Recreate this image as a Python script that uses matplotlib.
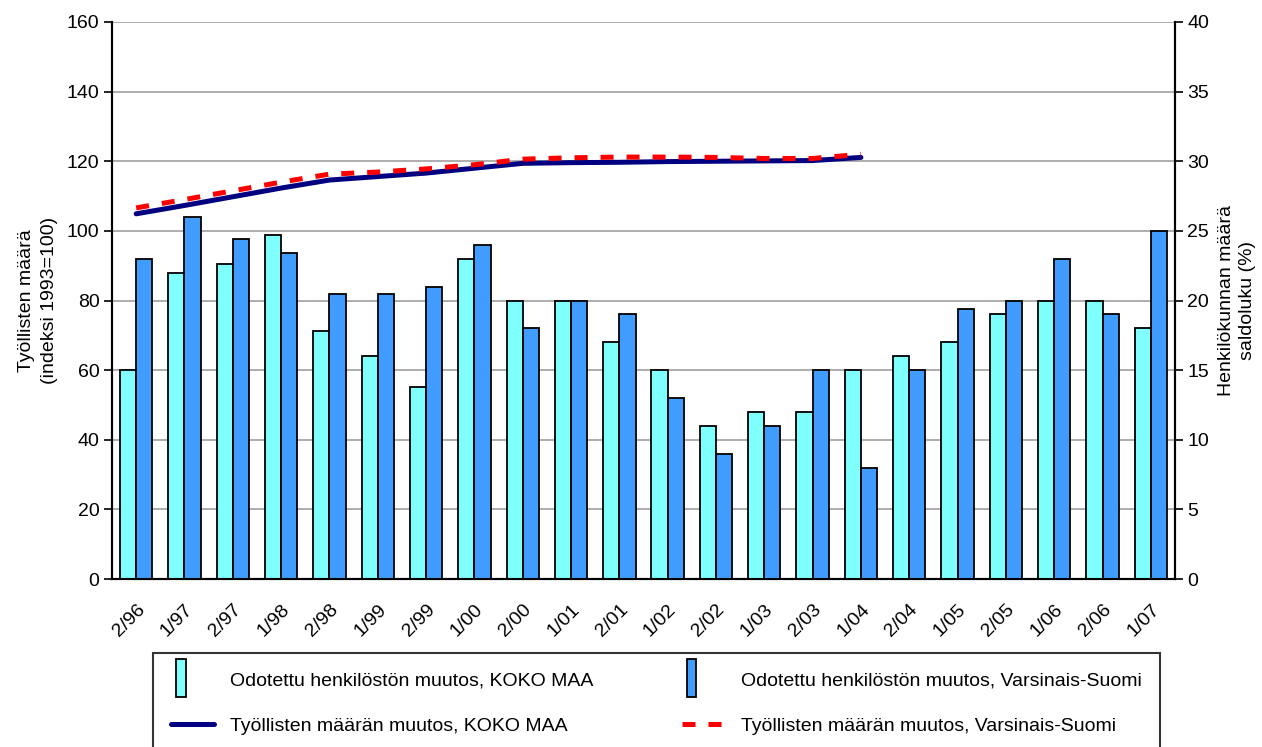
import numpy as np
import matplotlib as mpl
import matplotlib.pyplot as plt
import matplotlib.patches as mpatches
import matplotlib.lines as mlines
from matplotlib.legend_handler import HandlerPatch

mpl.use('Agg')
plt.rcParams['font.family'] = ['Liberation Sans', 'DejaVu Sans']

periods = ['2/96', '1/97', '2/97', '1/98', '2/98', '1/99', '2/99', '1/00', '2/00', '1/01', '2/01',
           '1/02', '2/02', '1/03', '2/03', '1/04', '2/04', '1/05', '2/05', '1/06', '2/06', '1/07']

# odotettu henkilöstön muutos, saldoluku (%)
staff_koko = [15, 22, 22.6, 24.7, 17.8, 16, 13.8, 23, 20, 20, 17,
              15, 11, 12, 12, 15, 16, 17, 19, 20, 20, 18]
staff_vs = [23, 26, 24.4, 23.4, 20.5, 20.5, 21, 24, 18, 20, 19,
            13, 9, 11, 15, 8, 15, 19.4, 20, 23, 19, 25]

# työllisten määrä, indeksi 1993=100 (2/96 - 1/04)
emp_koko = [104.9, 107.3, 109.8, 112.3, 114.6, 115.6, 116.6, 118.0, 119.4, 119.6, 119.7,
            119.9, 120.0, 120.1, 120.2, 121.1]
emp_vs = [106.6, 109.0, 111.5, 114.0, 116.3, 116.9, 117.8, 119.0, 120.6, 121.0, 121.2,
          121.2, 121.1, 120.8, 120.8, 122.0]

labels = ['Odotettu henkilöstön muutos, KOKO MAA',
          'Odotettu henkilöstön muutos, Varsinais-Suomi',
          'Työllisten määrän muutos, KOKO MAA',
          'Työllisten määrän muutos, Varsinais-Suomi']

cyan = '#80FFFF'
blue = '#409CFF'
navy = '#000080'
red = '#FF0000'
FS = 14

fig = plt.figure(figsize=(12.62, 7.47), dpi=100)
ax = fig.add_axes([112 / 1262, 1 - 579 / 747, (1175 - 112) / 1262, (579 - 22) / 747])
ax2 = ax.twinx()

x = np.arange(len(periods))
w = 0.335
ax2.bar(x - w / 2, staff_koko, w, color=cyan, edgecolor='black', linewidth=1.3, zorder=2)
ax2.bar(x + w / 2, staff_vs, w, color=blue, edgecolor='black', linewidth=1.3, zorder=2)
ax2.set_ylim(0, 40)
ax2.set_yticks(range(0, 41, 5))

xl = x[:len(emp_koko)]
dash = (0, (2.6, 2.6))
ax2.plot(xl, np.array(emp_koko) / 4, color=navy, lw=3.6, solid_capstyle='round', zorder=3)
ax2.plot(xl, np.array(emp_vs) / 4, color=red, lw=3.6, linestyle=dash, zorder=4)

ax.set_ylim(0, 160)
ax.set_yticks(range(0, 161, 20))
ax.set_xlim(-0.5, len(periods) - 0.5)
ax.yaxis.grid(True, color='#a0a0a0', lw=1.2)
ax.set_axisbelow(True)
ax.set_xticks(x)
ax.set_xticklabels(periods, rotation=45, ha='right', rotation_mode='anchor')
ax.tick_params(axis='x', length=0, pad=16, labelsize=FS)
ax.tick_params(axis='y', labelsize=FS, length=6, width=1.2, pad=3)
ax2.tick_params(axis='y', labelsize=FS, length=6, width=1.2, pad=3)

for a in (ax, ax2):
    a.spines['top'].set_visible(False)
    for s in ('left', 'right', 'bottom'):
        a.spines[s].set_linewidth(1.5)

ax.set_ylabel('Työllisten määrä\n(indeksi 1993=100)', fontsize=FS, labelpad=6, linespacing=1.5)
ax2.set_ylabel('Henkilökunnan määrä\nsaldoluku (%)', fontsize=FS, rotation=90, labelpad=6,
               linespacing=1.35)


def narrow_patch(legend, orig_handle, xdescent, ydescent, width, height, fontsize):
    return mpatches.Rectangle((-xdescent + 0.1 * width, -ydescent - 0.9 * height),
                              width * 0.23, height * 2.8)


handles = [mpatches.Patch(facecolor=cyan, edgecolor='black', linewidth=1.3),
           mpatches.Patch(facecolor=blue, edgecolor='black', linewidth=1.3),
           mlines.Line2D([], [], color=navy, lw=3.6, solid_capstyle='round'),
           mlines.Line2D([], [], color=red, lw=3.6, linestyle=dash)]
order = [0, 2, 1, 3]
leg = fig.legend([handles[i] for i in order], [labels[i] for i in order], ncol=2,
                 loc='upper left', bbox_to_anchor=(153 / 1262, 1 - 653 / 747, (1160 - 153) / 1262, 0.0),
                 mode='expand', fontsize=FS, frameon=True, fancybox=False, edgecolor='black',
                 handlelength=2.2, handletextpad=0.8, labelspacing=1.45, borderpad=0.95,
                 borderaxespad=0, columnspacing=1.5,
                 handler_map={mpatches.Patch: HandlerPatch(patch_func=narrow_patch)})
leg.get_frame().set_linewidth(1.5)

fig.savefig('out.png', dpi=100)
